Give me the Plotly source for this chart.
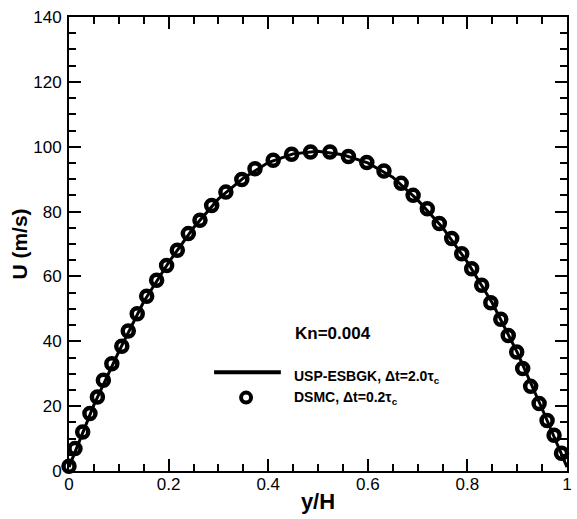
import plotly.graph_objects as go

# USP-ESBGK solid line (y/H, U in m/s)
line_x = [0.00, 0.05, 0.10, 0.15, 0.20, 0.25, 0.30, 0.35, 0.40, 0.45, 0.50,
          0.55, 0.60, 0.65, 0.70, 0.75, 0.80, 0.85, 0.90, 0.95, 1.00]
line_u = [1.2, 20.4, 36.8, 52.2, 64.3, 75.0, 83.9, 90.3, 95.1, 97.8, 98.6,
          97.5, 95.0, 90.6, 83.6, 75.1, 64.4, 51.8, 36.6, 19.2, 1.2]

# DSMC symbols
dsmc_x = [0.000, 0.012, 0.0275, 0.042, 0.057, 0.069, 0.086, 0.106, 0.119, 0.137,
          0.156, 0.176, 0.196, 0.2175, 0.2396, 0.263, 0.2865, 0.315, 0.347, 0.3735,
          0.410, 0.447, 0.485, 0.524, 0.561, 0.598, 0.6325, 0.667, 0.691, 0.7195,
          0.7436, 0.7685, 0.7886, 0.8086, 0.8287, 0.847, 0.867, 0.882, 0.899, 0.911,
          0.927, 0.944, 0.960, 0.974, 0.989]
dsmc_u = [1.45, 6.9, 12.0, 17.7, 22.8, 28.0, 33.1, 38.5, 43.2, 48.5,
          53.9, 58.8, 63.4, 68.1, 73.2, 77.3, 81.9, 86.0, 89.9, 93.2,
          95.8, 97.7, 98.4, 98.4, 97.0, 95.1, 92.5, 88.7, 85.0, 80.9,
          76.3, 71.7, 67.0, 62.4, 57.3, 51.9, 46.8, 41.8, 36.7, 31.6,
          26.1, 20.8, 15.6, 11.0, 5.5]

FONT = "Liberation Sans, Arial, Helvetica, sans-serif"

fig = go.Figure()
fig.add_trace(go.Scatter(x=line_x, y=line_u, mode="lines",
                         line=dict(color="black", width=3),
                         name="USP-ESBGK", showlegend=False, cliponaxis=False))
fig.add_trace(go.Scatter(x=dsmc_x, y=dsmc_u, mode="markers",
                         marker=dict(symbol="circle-open", size=11, color="black",
                                     line=dict(width=4.5, color="black")),
                         name="DSMC", showlegend=False, cliponaxis=False))

axis_common = dict(
    showline=True, linewidth=2, linecolor="black", mirror="allticks",
    ticks="inside", ticklen=12, tickwidth=2, tickcolor="black",
    showgrid=False, zeroline=False, automargin=False,
    tickfont=dict(family=FONT, size=17, color="black"),
)

fig.update_xaxes(range=[0, 1], dtick=0.2, tick0=0,
                 minor=dict(dtick=0.05, ticks="inside", ticklen=7, tickwidth=1.5,
                            tickcolor="black", showgrid=False),
                 title=dict(text="<b>y/H</b>", font=dict(family=FONT, size=22, color="black"),
                            standoff=0),
                 ticklabelstandoff=-3,
                 **axis_common)
fig.update_yaxes(range=[0, 140], dtick=20, tick0=0,
                 minor=dict(dtick=5, ticks="inside", ticklen=7, tickwidth=1.5,
                            tickcolor="black", showgrid=False),
                 title=dict(text="<b>U (m/s)</b>", font=dict(family=FONT, size=21, color="black"),
                            standoff=0),
                 ticklabelstandoff=2,
                 **axis_common)

# Annotation
fig.add_annotation(x=0.45, y=42.5, xref="x", yref="y", text="<b>Kn=0.004</b>",
                   showarrow=False, xanchor="left", yanchor="middle",
                   font=dict(family=FONT, size=17, color="black"))

# Manual legend
fig.add_shape(type="line", xref="paper", yref="paper",
              x0=0.2913, x1=0.4254, y0=0.2174, y1=0.2174,
              line=dict(color="black", width=4))
fig.add_shape(type="circle", xref="paper", yref="paper",
              xsizemode="pixel", ysizemode="pixel",
              xanchor=0.3556, yanchor=0.1617,
              x0=-5, x1=5, y0=-5, y1=5,
              line=dict(color="black", width=4))
fig.add_annotation(x=0.4475, y=0.207, xref="paper", yref="paper",
                   text="<b>USP-ESBGK, \u0394t=2.0\u03c4<sub>c</sub></b>",
                   showarrow=False, xanchor="left", yanchor="middle",
                   font=dict(family=FONT, size=14, color="black"))
fig.add_annotation(x=0.4475, y=0.1617, xref="paper", yref="paper",
                   text="<b>DSMC, \u0394t=0.2\u03c4<sub>c</sub></b>",
                   showarrow=False, xanchor="left", yanchor="middle",
                   font=dict(family=FONT, size=14, color="black"))

fig.update_layout(width=577, height=519,
                  margin=dict(l=69, r=10, t=17, b=48, autoexpand=False),
                  plot_bgcolor="white", paper_bgcolor="white",
                  showlegend=False)

fig.write_html("out.html")
